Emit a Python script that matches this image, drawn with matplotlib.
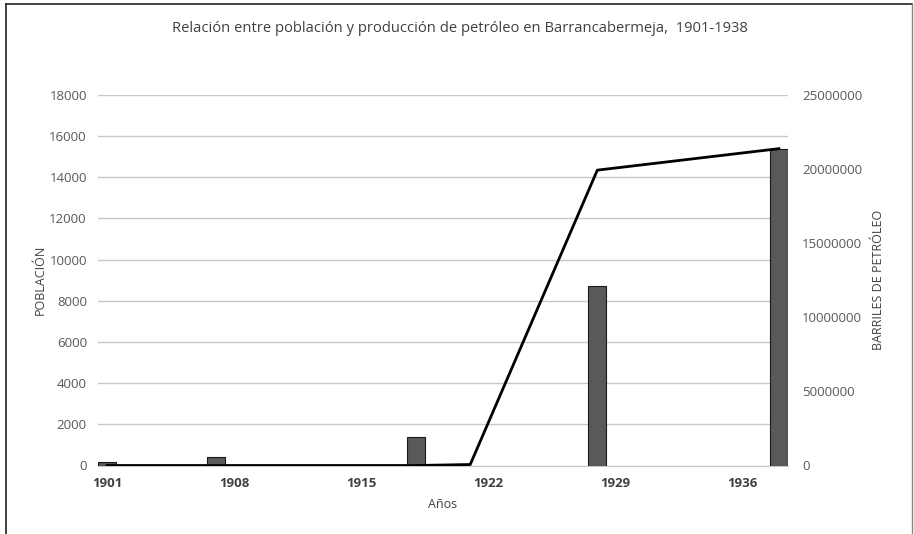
import matplotlib
matplotlib.use("Agg")
import matplotlib.pyplot as plt
from matplotlib.lines import Line2D
from matplotlib.ticker import FixedLocator, FuncFormatter

plt.rcParams['font.family'] = ['Open Sans', 'DejaVu Sans']

# Data
pop_years = [1901, 1907, 1918, 1928, 1938]
poblacion = [160, 400, 1400, 8700, 15400]
oil_years = [1901, 1907, 1918, 1921, 1928, 1938]
barriles = [0, 0, 0, 66750, 19930000, 21380000]
x_ticks = [1901, 1908, 1915, 1922, 1929, 1936]

title = "Relación entre población y producción de petróleo en Barrancabermeja,  1901-1938"

fig = plt.figure(figsize=(9.14, 5.34), dpi=100)
ax = fig.add_axes([98/914, 1-465.5/534, (788-98)/914, (465.5-95)/534])
ax2 = ax.twinx()

ax.bar(pop_years, poblacion, width=1.0, color='#595959', edgecolor='#1a1a1a', linewidth=0.8, zorder=3)
ax2.plot(oil_years, barriles, color='black', linewidth=2.0, zorder=4)

ax.set_xlim(1900.5, 1938.5)
ax.set_ylim(0, 18000)
ax2.set_ylim(0, 25000000)
ax.yaxis.set_major_locator(FixedLocator(range(0, 18001, 2000)))
ax2.yaxis.set_major_locator(FixedLocator(range(0, 25000001, 5000000)))
ax.xaxis.set_major_locator(FixedLocator(x_ticks))
ax.yaxis.set_major_formatter(FuncFormatter(lambda v, p: f"{int(v)}"))
ax2.yaxis.set_major_formatter(FuncFormatter(lambda v, p: f"{int(v)}"))

ax.grid(axis='y', color='#c8c8c8', linewidth=1.0, zorder=0)
ax.set_axisbelow(True)
for a in (ax, ax2):
    for s in a.spines.values():
        s.set_visible(False)
    a.tick_params(length=0)
ax.spines['bottom'].set_visible(True)
ax.spines['bottom'].set_color('#c8c8c8')

ax.tick_params(axis='y', labelsize=9.5, labelcolor='#595959', pad=8)
ax2.tick_params(axis='y', labelsize=9.5, labelcolor='#595959', pad=10)
ax.tick_params(axis='x', labelsize=9.5, labelcolor='#404040', pad=8)
for lab in ax.get_xticklabels():
    lab.set_fontweight('bold')

ax.set_ylabel("POBLACIÓN", fontsize=9, color='#404040', labelpad=2)
ax2.set_ylabel("BARRILES DE PETRÓLEO", fontsize=9, color='#404040', labelpad=7)
ax.set_xlabel("Años", fontsize=9, color='#404040', labelpad=6)

fig.text(460/914, 1-28/534, title, ha='center', va='center', fontsize=10.6, color='#404040')

# figure border
fig.add_artist(Line2D([6/914, 6/914], [0, 1-4/534], transform=fig.transFigure, color='#222222', linewidth=1.2))
fig.add_artist(Line2D([6/914, 912/914], [1-4/534, 1-4/534], transform=fig.transFigure, color='#222222', linewidth=1.2))
fig.add_artist(Line2D([912/914, 912/914], [0, 1-4/534], transform=fig.transFigure, color='#888888', linewidth=1.0))

fig.savefig("out.png", dpi=100, facecolor='white')
